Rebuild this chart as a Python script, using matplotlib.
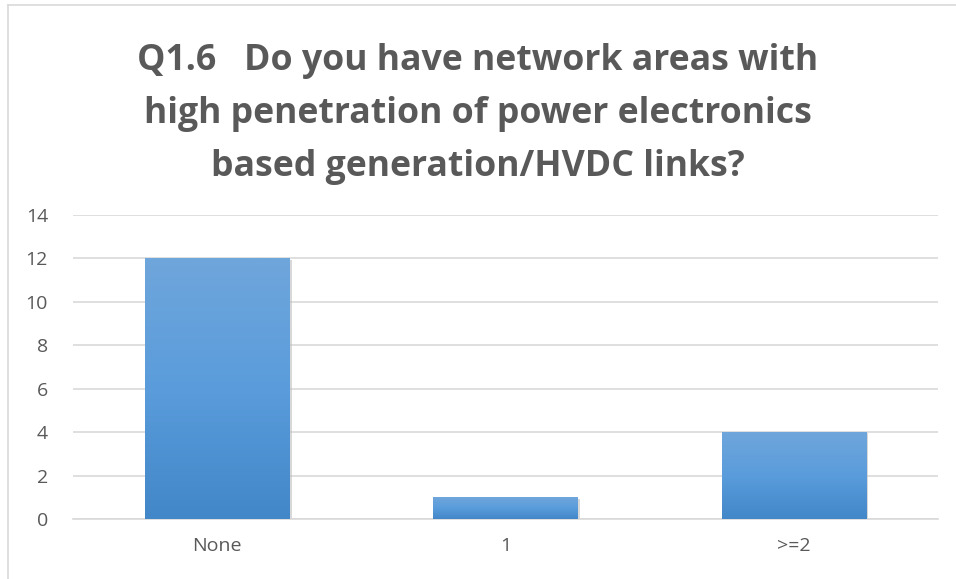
import matplotlib.pyplot as plt
import numpy as np
from matplotlib.lines import Line2D
from matplotlib.colors import LinearSegmentedColormap

plt.rcParams["font.family"] = ["Open Sans", "DejaVu Sans"]

categories = ["None", "1", ">=2"]
counts = [12, 1, 4]
yticks = [0, 2, 4, 6, 8, 10, 12, 14]
title = "Q1.6   Do you have network areas with\nhigh penetration of power electronics\nbased generation/HVDC links?"

fig = plt.figure(figsize=(9.56, 5.79), dpi=100)
ax = fig.add_axes([0.0764, 0.1036, 0.9046, 0.5251])

# Chart frame (partially cropped in the original)
fig.add_artist(Line2D([0.0085, 0.0085], [0.0, 0.991], color="#d9d9d9", lw=1.2, transform=fig.transFigure))
fig.add_artist(Line2D([0.0085, 1.0], [0.991, 0.991], color="#d9d9d9", lw=1.2, transform=fig.transFigure))

x = np.arange(len(categories))
width = 0.5
grad = LinearSegmentedColormap.from_list("bar", ["#4287c8", "#5a9cdc", "#6fa6db"])
bars = ax.bar(x, counts, width=width, color="none", zorder=3)
for b in bars:
    x0, y0 = b.get_x(), b.get_y()
    w, h = b.get_width(), b.get_height()
    # soft shadow
    ax.add_patch(plt.Rectangle((x0 + 0.008, y0 - 0.06), w, h, color="#bfbfbf", alpha=0.6, zorder=2, lw=0))
    img = ax.imshow(np.linspace(0, 1, 256).reshape(-1, 1), cmap=grad, aspect="auto",
                    extent=[x0, x0 + w, y0, y0 + h], origin="lower", zorder=3)
    img.set_clip_path(b)

ax.set_xlim(-0.5, len(categories) - 0.5)
ax.set_ylim(0, 14)
ax.set_yticks(yticks)
ax.set_xticks(x)
ax.set_xticklabels(categories)
ax.yaxis.grid(True, color="#d9d9d9", lw=1.2, zorder=0)
ax.set_axisbelow(True)
for s in ["top", "right", "left"]:
    ax.spines[s].set_visible(False)
ax.spines["bottom"].set_color("#d9d9d9")
ax.spines["bottom"].set_linewidth(1.2)
ax.tick_params(length=0, labelsize=14, colors="#595959")
ax.tick_params(axis="y", pad=18)
ax.tick_params(axis="x", pad=13)

fig.text(0.5, 0.803, title, ha="center", va="center", fontsize=25.7, fontweight="bold",
         color="#595959", linespacing=1.64)

plt.savefig("out.png", dpi=100)
